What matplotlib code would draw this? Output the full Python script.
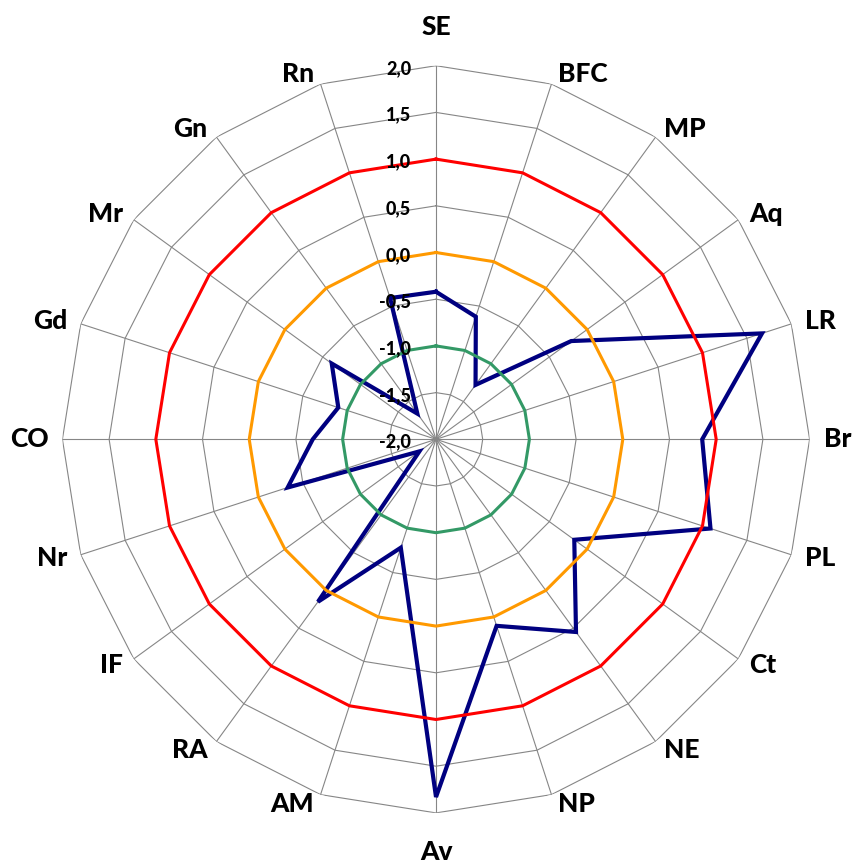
import numpy as np
import matplotlib
matplotlib.use("Agg")
import matplotlib.pyplot as plt

# === categories and values (clockwise from top) ===
categories = ["SE", "BFC", "MP", "Aq", "LR", "Br", "PL", "Ct", "NE", "NP",
              "Av", "AM", "RA", "IF", "Nr", "CO", "Gd", "Mr", "Gn", "Rn"]
values = [-0.42, -0.62, -1.28, -0.21, 1.67, 0.85, 1.09, -0.17, 0.55, 0.10,
          1.83, -0.78, 0.15, -1.78, -0.33, -0.68, -0.90, -0.62, -1.66, -0.41]

# reference rings
ref_levels = [-1.0, 0.0, 1.0]
ref_colors = ["#339966", "#FF9900", "#FF0000"]

grid_levels = [-1.5, -1.0, -0.5, 0.0, 0.5, 1.0, 1.5, 2.0]
tick_levels = [2.0, 1.5, 1.0, 0.5, 0.0, -0.5, -1.0, -1.5, -2.0]
tick_labels = ["2,0", "1,5", "1,0", "0,5", "0,0", "-0,5", "-1,0", "-1,5", "-2,0"]

plt.rcParams['font.family'] = ['Lato', 'DejaVu Sans']

n = len(categories)
theta = np.arange(n) * 2 * np.pi / n
theta_c = np.append(theta, theta[0])

fig = plt.figure(figsize=(8.53, 8.63), dpi=100)
ax = fig.add_axes([0.07315, 0.05805, 0.876, 0.8658], projection='polar')
ax.set_theta_zero_location('N')
ax.set_theta_direction(-1)
ax.set_ylim(-2, 2)
ax.grid(False)
ax.set_xticks([])
ax.set_yticks([])
ax.spines['polar'].set_visible(False)

# polygon grid
for lvl in grid_levels:
    ax.plot(theta_c, [lvl] * (n + 1), color='#868686', lw=0.8, zorder=1)
for t in theta:
    ax.plot([t, t], [-2, 2], color='#868686', lw=0.8, zorder=1)

# data series
vals_c = values + values[:1]
ax.plot(theta_c, vals_c, color='#000080', lw=3.0, zorder=3,
        solid_joinstyle='miter')

# reference rings
for lvl, col in zip(ref_levels, ref_colors):
    ax.plot(theta_c, [lvl] * (n + 1), color=col, lw=2.2, zorder=4)

# radial tick labels
for lvl, lab in zip(tick_levels, tick_labels):
    ax.annotate(lab, xy=(0, lvl), xytext=(-18, -2), textcoords='offset points',
                ha='right', va='center', fontsize=13, fontweight='black',
                annotation_clip=False, zorder=5)

# category labels, placed outside the outer vertex like Excel does
px = 0.72  # pixels -> points at 100 dpi
for t, lab in zip(theta, categories):
    s, c = np.sin(t), np.cos(t)
    if abs(s) < 0.1:
        ha, dx, dy = 'center', 0, 39 * np.sign(c)
    else:
        ha = 'left' if s > 0 else 'right'
        dx = np.sign(s) * (6 + 8 * s * s)
        dy = 10 * c
    ax.annotate(lab, xy=(t, 2), xytext=(dx * px, dy * px),
                textcoords='offset points', ha=ha, va='center',
                fontsize=19, fontweight='black', annotation_clip=False)

fig.savefig("out.png", dpi=100)
